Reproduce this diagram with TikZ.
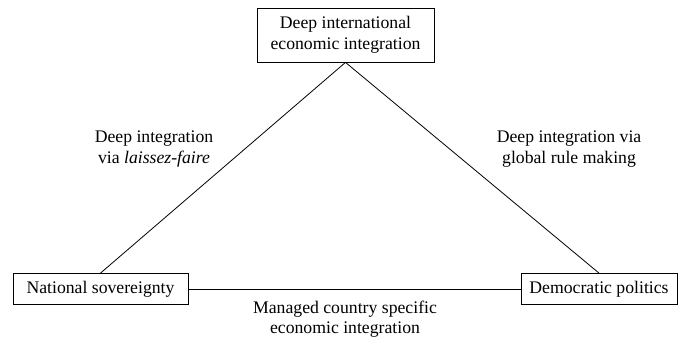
\documentclass[tikz,border=0pt]{standalone}
\usepackage{fontspec}
\setmainfont{Liberation Serif}
\begin{document}
\begin{tikzpicture}[x=1pt,y=-1pt,
  box/.style={draw,line width=0.8pt,inner sep=0pt,align=center,font=\fontsize{17.7}{20.5}\selectfont},
  lbl/.style={align=center,inner sep=0pt,font=\fontsize{17.7}{20.5}\selectfont},
  conn/.style={line width=0.8pt}]
\useasboundingbox (0,0) rectangle (679,339);
\node[box,minimum width=177pt,minimum height=54pt] (top) at (345.5,35) {Deep international\\economic integration};
\node[box,minimum width=175pt,minimum height=31pt] (ns) at (100.5,289) {National sovereignty};
\node[box,minimum width=156pt,minimum height=31pt] (dp) at (599,289) {Democratic politics};
\draw[conn] (ns.north) -- (top.south);
\draw[conn] (dp.north) -- (top.south);
\draw[conn] (ns.east) -- (dp.west);
\node[lbl] (l1) at (154,149) {Deep integration\\via \textit{laissez-faire}};
\node[lbl] (l2) at (569,149) {Deep integration via\\global rule making};
\node[lbl] (l3) at (345,319) {Managed country specific\\economic integration};
\end{tikzpicture}
\end{document}
